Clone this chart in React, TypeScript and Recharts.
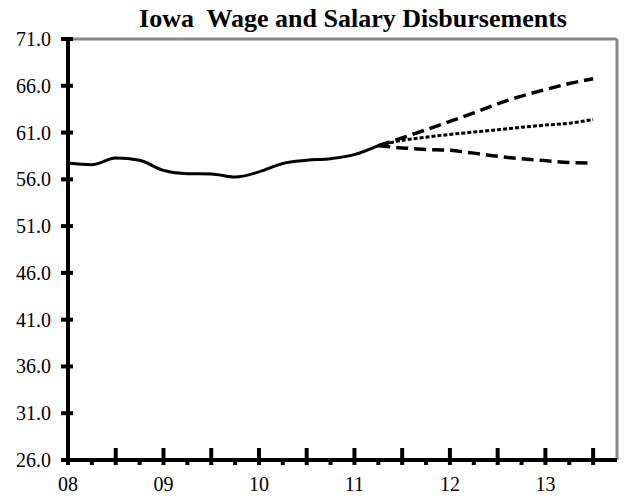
import React from 'react';
import { LineChart, Line, XAxis, YAxis, ReferenceLine } from 'recharts';

// quarter index from 2008 Q1
const quarters = [0, 1, 2, 3, 4, 5, 6, 7, 8, 9, 10, 11, 12, 13, 14, 15, 16, 17, 18, 19, 20, 21, 22];
const yearLabels: Record<number, string> = { 0: '08', 4: '09', 8: '10', 12: '11', 16: '12', 20: '13' };
const yTicks = [26, 31, 36, 41, 46, 51, 56, 61, 66, 71];

const actual = [57.75, 57.57, 58.29, 58.03, 56.96, 56.6, 56.57, 56.25, 56.8, 57.7, 58.03, 58.21, 58.64, 59.6];
const forecastStart = 13;
const high = [59.6, 60.43, 61.3, 62.2, 63.1, 64.07, 64.9, 65.6, 66.24, 66.76];
const mid = [59.6, 60.17, 60.5, 60.8, 61.05, 61.3, 61.56, 61.8, 62.0, 62.4];
const low = [59.6, 59.36, 59.2, 59.1, 58.8, 58.46, 58.2, 58.0, 57.8, 57.75];

const data = quarters.map((q) => ({
  q,
  actual: q < actual.length ? actual[q] : null,
  high: q >= forecastStart ? high[q - forecastStart] : null,
  mid: q >= forecastStart ? mid[q - forecastStart] : null,
  low: q >= forecastStart ? low[q - forecastStart] : null,
}));

const FONT = '"Liberation Serif", "Times New Roman", serif';

const XTick = ({ x, y, payload }: any) => {
  const v = payload.value;
  const major = v % 2 === 0;
  return (
    <g>
      <line x1={x} x2={x} y1={major ? y - 12 : y} y2={y + 5} stroke="#000" strokeWidth={4} />
      {yearLabels[v] && (
        <text x={x} y={y + 31} textAnchor="middle" fontFamily={FONT} fontSize={20} fill="#000">
          {yearLabels[v]}
        </text>
      )}
    </g>
  );
};

const YTick = ({ x, y, payload }: any) => (
  <g>
    <line x1={x - 7} x2={x + 5} y1={y} y2={y} stroke="#000" strokeWidth={4} />
    <text x={x - 17} y={y} dy="0.35em" textAnchor="end" fontFamily={FONT} fontSize={20} fill="#000">
      {Number(payload.value).toFixed(1)}
    </text>
  </g>
);

const App = () => {
  return (
    <div style={{ position: 'absolute', left: 0, top: 0, width: 625, height: 498, background: '#fff' }}>
      <div
        style={{
          position: 'absolute',
          left: 0,
          top: 6,
          width: 706,
          textAlign: 'center',
          fontFamily: FONT,
          fontWeight: 'bold',
          fontSize: 26,
          lineHeight: '26px',
          whiteSpace: 'pre',
        }}
      >
        {'Iowa  Wage and Salary Disbursements'}
      </div>
      <LineChart width={625} height={498} data={data} margin={{ top: 39, right: 8, bottom: 0, left: 0 }}>
        <XAxis
          dataKey="q"
          type="number"
          domain={[0, 23]}
          ticks={quarters}
          interval={0}
          height={38}
          tickSize={0}
          tickMargin={0}
          tickLine={false}
          axisLine={{ stroke: '#000', strokeWidth: 4 }}
          tick={<XTick />}
        />
        <YAxis
          type="number"
          domain={[26, 71]}
          ticks={yTicks}
          interval={0}
          width={68}
          tickSize={0}
          tickMargin={0}
          tickLine={false}
          axisLine={{ stroke: '#000', strokeWidth: 4 }}
          tick={<YTick />}
        />
        <ReferenceLine y={71} stroke="#888" strokeWidth={3} ifOverflow="visible" />
        <ReferenceLine x={23} stroke="#888" strokeWidth={3} ifOverflow="visible" />
        <ReferenceLine x={0} stroke="#000" strokeWidth={4} ifOverflow="visible" />
        <ReferenceLine y={26} stroke="#000" strokeWidth={4} ifOverflow="visible" />
        <Line type="monotone" dataKey="actual" stroke="#000" strokeWidth={3} dot={false} isAnimationActive={false} />
        <Line type="monotone" dataKey="high" stroke="#000" strokeWidth={3.5} strokeDasharray="12 6" dot={false} isAnimationActive={false} />
        <Line type="monotone" dataKey="mid" stroke="#000" strokeWidth={3} strokeDasharray="4 2" dot={false} isAnimationActive={false} />
        <Line type="monotone" dataKey="low" stroke="#000" strokeWidth={3.5} strokeDasharray="12 6" dot={false} isAnimationActive={false} />
      </LineChart>
    </div>
  );
};

export default App;
